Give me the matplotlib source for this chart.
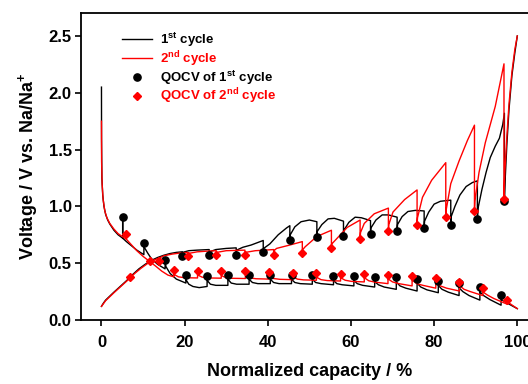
import numpy as np
import matplotlib
matplotlib.use('Agg')
import matplotlib.pyplot as plt

plt.rcParams['font.family'] = ['Liberation Sans', 'DejaVu Sans']
plt.rcParams['font.weight'] = 'bold'
plt.rcParams['mathtext.fontset'] = 'custom'
plt.rcParams['mathtext.rm'] = 'Liberation Sans:bold'
plt.rcParams['mathtext.bf'] = 'Liberation Sans:bold'
plt.rcParams['mathtext.it'] = 'Liberation Sans:bold'

# 1st cycle, discharge (GITT pulses + relaxation)
c1_dis_x = [0, 0.02, 0.1, 0.3, 0.6, 1.0, 1.5, 2.0, 3.0, 4.0, 5.1, 5.1,
            5.1, 6.0, 7.0, 8.5, 10.2, 10.2,
            10.3, 11.1, 12.0, 13.5, 15.3, 15.3,
            15.5, 16.5, 18.0, 20.3, 20.3,
            20.4, 21.0, 22.0, 23.5, 25.4, 25.4,
            25.5, 26.2, 27.5, 30.4, 30.4,
            30.5, 31.2, 32.5, 35.5, 35.5,
            35.6, 36.3, 37.6, 40.6, 40.6,
            40.7, 41.4, 42.7, 45.7, 45.7,
            45.8, 46.5, 47.8, 50.7, 50.7,
            50.8, 51.5, 52.8, 55.8, 55.8,
            55.9, 56.6, 57.9, 60.7, 60.7,
            60.8, 61.5, 62.8, 65.7, 65.7,
            65.8, 66.6, 68.0, 70.9, 70.9,
            71.0, 71.8, 73.2, 75.9, 75.9,
            76.0, 76.8, 78.3, 81.0, 81.0,
            81.1, 81.9, 83.4, 86.0, 86.0,
            86.1, 86.9, 88.4, 91.0, 91.0,
            91.1, 91.9, 93.4, 96.1, 96.1,
            96.2, 97.5, 99.0, 100.0]
c1_dis_y = [2.05, 1.6, 1.25, 1.1, 1.0, 0.93, 0.88, 0.845, 0.79, 0.75, 0.72, 0.905,
            0.72, 0.69, 0.66, 0.615, 0.575, 0.68,
            0.64, 0.59, 0.54, 0.49, 0.45, 0.53,
            0.47, 0.41, 0.36, 0.325, 0.40,
            0.35, 0.315, 0.295, 0.285, 0.295, 0.39,
            0.345, 0.315, 0.305, 0.305, 0.40,
            0.355, 0.325, 0.315, 0.315, 0.40,
            0.355, 0.33, 0.32, 0.32, 0.40,
            0.355, 0.33, 0.32, 0.32, 0.40,
            0.355, 0.33, 0.32, 0.315, 0.40,
            0.355, 0.33, 0.32, 0.31, 0.39,
            0.345, 0.32, 0.31, 0.30, 0.39,
            0.345, 0.32, 0.305, 0.29, 0.38,
            0.335, 0.31, 0.29, 0.27, 0.375,
            0.33, 0.30, 0.28, 0.255, 0.365,
            0.32, 0.29, 0.265, 0.24, 0.345,
            0.30, 0.27, 0.245, 0.215, 0.325,
            0.28, 0.25, 0.215, 0.175, 0.29,
            0.245, 0.215, 0.18, 0.13, 0.22,
            0.18, 0.15, 0.12, 0.10]

# 1st cycle, charge
c1_chg_x = [0, 0.5, 1.0, 2.0, 3.0, 4.5, 6.0, 7.5, 9.0, 10.5, 12.0, 13.5, 15.0, 16.5, 18.0, 19.4, 19.4,
            19.5, 21.0, 23.0, 25.9, 25.9,
            26.0, 27.5, 30.0, 32.4, 32.4,
            32.5, 34.0, 36.0, 38.9, 38.9,
            39.0, 40.5, 42.5, 44.5, 45.3, 45.3,
            45.4, 46.5, 48.0, 50.0, 51.8, 51.8,
            51.9, 53.0, 54.5, 56.0, 58.2, 58.2,
            58.3, 59.5, 61.0, 62.5, 64.7, 64.7,
            64.8, 66.0, 67.5, 69.0, 71.1, 71.1,
            71.2, 72.3, 73.7, 75.5, 77.6, 77.6,
            77.7, 78.7, 80.0, 81.5, 84.0, 84.0,
            84.1, 85.0, 86.2, 87.7, 89.2, 90.4, 90.4,
            90.6, 91.5, 92.5, 93.5, 94.7, 95.7, 96.5, 96.9, 96.9,
            97.1, 97.5, 98.0, 98.7, 99.4, 100.0]
c1_chg_y = [0.12, 0.15, 0.175, 0.21, 0.245, 0.295, 0.345, 0.40, 0.45, 0.49, 0.525, 0.55, 0.57, 0.585, 0.595, 0.60, 0.565,
            0.595, 0.61, 0.615, 0.62, 0.57,
            0.60, 0.62, 0.63, 0.635, 0.575,
            0.615, 0.64, 0.66, 0.70, 0.60,
            0.63, 0.67, 0.75, 0.81, 0.83, 0.70,
            0.75, 0.82, 0.865, 0.88, 0.865, 0.73,
            0.78, 0.84, 0.89, 0.895, 0.87, 0.74,
            0.79, 0.86, 0.905, 0.90, 0.875, 0.755,
            0.81, 0.88, 0.925, 0.925, 0.905, 0.785,
            0.84, 0.91, 0.955, 0.965, 0.96, 0.81,
            0.87, 0.95, 1.02, 1.045, 1.055, 0.84,
            0.91, 1.0, 1.1, 1.175, 1.21, 1.225, 0.89,
            0.99, 1.15, 1.3, 1.43, 1.53, 1.6, 1.72, 1.82, 1.05,
            1.25, 1.55, 1.85, 2.15, 2.35, 2.5]

# 2nd cycle, discharge
c2_dis_x = [0, 0.03, 0.15, 0.4, 0.8, 1.3, 2.0, 3.0, 4.0, 5.0, 5.8, 5.8,
            5.9, 7.0, 8.5, 10.0, 11.6, 13.0, 14.5, 16.0, 17.4, 17.4,
            17.5, 18.5, 20.0, 23.1, 23.1,
            23.2, 24.2, 25.7, 28.8, 28.8,
            28.9, 29.9, 31.4, 34.6, 34.6,
            34.7, 35.7, 37.2, 40.3, 40.3,
            40.4, 41.4, 42.9, 46.0, 46.0,
            46.1, 47.1, 48.6, 51.7, 51.7,
            51.8, 52.8, 54.3, 57.5, 57.5,
            57.6, 58.6, 60.1, 63.2, 63.2,
            63.3, 64.3, 65.8, 68.9, 68.9,
            69.0, 70.0, 71.5, 74.7, 74.7,
            74.8, 75.8, 77.3, 80.4, 80.4,
            80.5, 81.5, 83.0, 86.1, 86.1,
            86.2, 87.2, 88.7, 91.7, 91.7,
            91.8, 92.8, 94.3, 97.5, 97.5,
            97.6, 98.8, 100.0]
c2_dis_y = [1.75, 1.4, 1.2, 1.06, 0.96, 0.9, 0.85, 0.8, 0.76, 0.735, 0.715, 0.755,
            0.715, 0.67, 0.61, 0.56, 0.515, 0.475, 0.43, 0.395, 0.38, 0.44,
            0.40, 0.38, 0.372, 0.37, 0.435,
            0.395, 0.377, 0.37, 0.368, 0.43,
            0.39, 0.373, 0.367, 0.365, 0.43,
            0.39, 0.37, 0.363, 0.36, 0.42,
            0.385, 0.365, 0.358, 0.355, 0.417,
            0.38, 0.36, 0.353, 0.35, 0.41,
            0.375, 0.355, 0.347, 0.343, 0.405,
            0.37, 0.35, 0.34, 0.335, 0.405,
            0.37, 0.345, 0.333, 0.32, 0.40,
            0.36, 0.335, 0.32, 0.30, 0.39,
            0.35, 0.32, 0.305, 0.28, 0.367,
            0.33, 0.30, 0.28, 0.255, 0.338,
            0.30, 0.27, 0.25, 0.215, 0.28,
            0.245, 0.22, 0.19, 0.14, 0.176,
            0.16, 0.13, 0.10]

# 2nd cycle, charge
c2_chg_x = [0, 0.5, 1.0, 2.0, 3.0, 4.5, 6.0, 6.9, 8.0, 9.5, 11.0, 12.5, 13.8, 13.8,
            13.9, 15.0, 17.0, 19.0, 20.7, 20.7,
            20.8, 23.0, 25.0, 27.6, 27.6,
            27.7, 30.0, 34.5, 34.5,
            34.6, 37.0, 41.4, 41.4,
            41.5, 42.1, 45.3, 48.3, 48.3,
            48.4, 49.0, 51.8, 55.3, 55.3,
            55.4, 56.3, 59.1, 62.2, 62.2,
            62.3, 63.2, 65.6, 69.0, 69.0,
            69.1, 70.1, 72.9, 75.9, 75.9,
            76.0, 77.2, 79.4, 82.8, 82.8,
            82.9, 84.0, 86.0, 88.0, 89.7, 89.7,
            89.8, 90.8, 92.3, 94.7, 96.8, 96.8,
            97.0, 97.5, 98.0, 98.7, 99.4, 100.0]
c2_chg_y = [0.12, 0.145, 0.17, 0.205, 0.24, 0.29, 0.34, 0.37, 0.41, 0.455, 0.495, 0.525, 0.545, 0.52,
            0.545, 0.565, 0.58, 0.59, 0.595, 0.56,
            0.585, 0.60, 0.605, 0.61, 0.57,
            0.595, 0.61, 0.615, 0.57,
            0.595, 0.61, 0.62, 0.575,
            0.61, 0.63, 0.66, 0.69, 0.59,
            0.62, 0.645, 0.735, 0.79, 0.63,
            0.67, 0.705, 0.815, 0.88, 0.715,
            0.77, 0.85, 0.935, 0.985, 0.78,
            0.84, 0.95, 1.06, 1.145, 0.84,
            0.90, 1.08, 1.23, 1.385, 0.905,
            0.97, 1.2, 1.4, 1.58, 1.715, 0.96,
            1.05, 1.3, 1.56, 1.88, 2.255, 1.066,
            1.3, 1.62, 1.9, 2.18, 2.38, 2.5]

# QOCV points of 1st cycle (discharge + charge)
q1_x = [5.1, 10.2, 15.3, 20.3, 25.4, 30.4, 35.5, 40.6, 45.7, 50.7, 55.8, 60.7, 65.7, 70.9, 75.9, 81.0, 86.0, 91.0, 96.1,
        19.4, 25.9, 32.4, 38.9, 45.3, 51.8, 58.2, 64.7, 71.1, 77.6, 84.0, 90.4, 96.9]
q1_y = [0.905, 0.68, 0.53, 0.40, 0.39, 0.40, 0.40, 0.40, 0.40, 0.40, 0.39, 0.39, 0.38, 0.375, 0.365, 0.345, 0.325, 0.29, 0.22,
        0.565, 0.57, 0.575, 0.60, 0.70, 0.73, 0.74, 0.755, 0.785, 0.81, 0.84, 0.89, 1.05]

# QOCV points of 2nd cycle (discharge + charge)
q2_x = [5.8, 11.6, 17.4, 23.1, 28.8, 34.6, 40.3, 46.0, 51.7, 57.5, 63.2, 68.9, 74.7, 80.4, 86.1, 91.7, 97.5,
        6.9, 13.8, 20.7, 27.6, 34.5, 41.4, 48.3, 55.3, 62.2, 69.0, 75.9, 82.8, 89.7, 96.8]
q2_y = [0.755, 0.52, 0.44, 0.435, 0.43, 0.43, 0.42, 0.417, 0.41, 0.405, 0.405, 0.40, 0.39, 0.367, 0.338, 0.28, 0.176,
        0.376, 0.52, 0.56, 0.57, 0.57, 0.575, 0.59, 0.63, 0.715, 0.78, 0.84, 0.905, 0.96, 1.066]

fig = plt.figure(figsize=(5.28, 3.84), dpi=100)
ax = fig.add_axes([0.1528, 0.1667, 0.8663, 0.7987])

ax.plot(c1_dis_x, c1_dis_y, color='black', lw=1.0, label=r'1$^{\mathbf{st}}$ cycle', zorder=2)
ax.plot(c1_chg_x, c1_chg_y, color='black', lw=1.0, zorder=2)
ax.plot(c2_dis_x, c2_dis_y, color='red', lw=1.0, label=r'2$^{\mathbf{nd}}$ cycle', zorder=2.1)
ax.plot(c2_chg_x, c2_chg_y, color='red', lw=1.0, zorder=2.1)
ax.plot(q1_x, q1_y, 'o', color='black', ms=5.2, ls='none', label=r'QOCV of 1$^{\mathbf{st}}$ cycle', zorder=3)
ax.plot(q2_x, q2_y, 'D', color='red', ms=3.7, ls='none', label=r'QOCV of 2$^{\mathbf{nd}}$ cycle', zorder=4)

ax.set_xlim(-5, 105)
ax.set_ylim(0, 2.7)
ax.set_xticks([0, 20, 40, 60, 80, 100])
ax.set_yticks([0.0, 0.5, 1.0, 1.5, 2.0, 2.5])
ax.set_yticklabels(['0.0', '0.5', '1.0', '1.5', '2.0', '2.5'])
ax.tick_params(axis='both', direction='out', length=4, width=1.2, labelsize=12)
ax.tick_params(axis='x', pad=7)
ax.tick_params(axis='y', pad=2.5)
for s in ax.spines.values():
    s.set_linewidth(1.3)

ax.set_xlabel('Normalized capacity / %', fontsize=13, fontweight='bold', labelpad=9)
ax.set_ylabel(r'Voltage / V vs. Na/Na$^{\mathbf{+}}$', fontsize=13, fontweight='bold', labelpad=6)

leg = ax.legend(loc='upper left', bbox_to_anchor=(0.09, 0.943), frameon=False, fontsize=9.5,
                handlelength=2.3, handletextpad=0.6, labelspacing=0.0, borderpad=0, borderaxespad=0)
for t, c in zip(leg.get_texts(), ['black', 'red', 'black', 'red']):
    t.set_color(c)

fig.savefig('out.png', dpi=100)
